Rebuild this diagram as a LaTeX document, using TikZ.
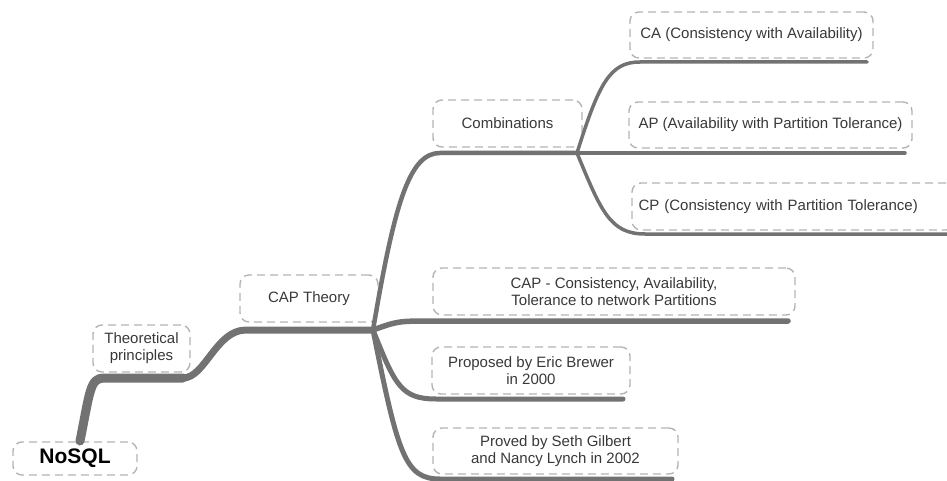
\documentclass[tikz,border=0pt]{standalone}
\usepackage{fontspec}
\setmainfont{Liberation Sans}
\begin{document}
\begin{tikzpicture}[x=1pt,y=-1pt,
  box/.style={draw=boxgray, line width=1.4pt, dash pattern=on 8pt off 5pt,
    rounded corners=9pt, inner sep=0pt, align=center, text=txtgray,
    font=\fontsize{15}{17}\selectfont},
  branch/.style={draw=linegray, line cap=round, line join=round}]
\definecolor{boxgray}{HTML}{B4B4B4}
\definecolor{linegray}{HTML}{727272}
\definecolor{txtgray}{HTML}{383838}
\useasboundingbox (0,0) rectangle (947,481);

% topic boxes
\node[box, minimum width=124pt, minimum height=33pt, text=black,
      font=\fontsize{21}{24}\bfseries] (nosql) at (75,458.5) {NoSQL};
\node[box, minimum width=97pt,  minimum height=47pt] (theo)   at (141.5,348.5) {Theoretical\\principles};
\node[box, minimum width=138pt, minimum height=47pt] (cap)    at (309,298.5)   {CAP Theory};
\node[box, minimum width=149pt, minimum height=47pt] (comb)   at (507.5,123.5) {Combinations};
\node[box, minimum width=243pt, minimum height=46pt] (ca)     at (751.5,35)    {CA (Consistency with Availability)};
\node[box, minimum width=283pt, minimum height=46pt] (ap)     at (770.5,125)   {AP (Availability with Partition Tolerance)};
\node[box, minimum width=323pt, minimum height=47pt, text width=310pt, align=left] (cp) at (793.5,206.5) {CP (Consistency with Partition Tolerance)};
\node[box, minimum width=362pt, minimum height=47pt] (capdef) at (614,291.5)   {CAP - Consistency, Availability,\\Tolerance to network Partitions};
\node[box, minimum width=198pt, minimum height=47pt] (prop)   at (531,370.5)   {Proposed by Eric Brewer\\in 2000};
\node[box, minimum width=245pt, minimum height=46pt] (proved) at (555.5,451)   {Proved by Seth Gilbert\\and Nancy Lynch in 2002};

% underline end points of each branch
\coordinate (nosql-t) at (80,441);
\coordinate (theo-l) at (104,378);   \coordinate (theo-r) at (183,378);
\coordinate (cap-l) at (246,330);    \coordinate (cap-r) at (373,330);
\coordinate (comb-l) at (440,153);   \coordinate (comb-r) at (577,153);
\coordinate (ca-l) at (640,62);      \coordinate (ca-r) at (867,62);
\coordinate (ap-r) at (905,153);
\coordinate (cp-l) at (645,234);     \coordinate (cp-r) at (952,234);
\coordinate (capdef-l) at (435,321); \coordinate (capdef-r) at (788,321);
\coordinate (prop-l) at (436,399);   \coordinate (prop-r) at (623,399);
\coordinate (proved-l) at (440,479); \coordinate (proved-r) at (672,479);

% branches
\draw[branch, line width=9pt] (nosql-t) .. controls +(10,-50) and +(-14,0) .. (theo-l) -- (theo-r);
\draw[branch, line width=7pt] (theo-r) .. controls +(22,0) and +(-30,0) .. (cap-l) -- (cap-r);
\draw[branch, line width=4.5pt] (cap-r) .. controls +(22,-130) and +(-30,0) .. (comb-l) -- (comb-r);
\draw[branch, line width=5.5pt] (cap-r) .. controls +(25,-9) .. (capdef-l) -- (capdef-r);
\draw[branch, line width=5pt] (cap-r) .. controls +(22,55) and +(-35,0) .. (prop-l) -- (prop-r);
\draw[branch, line width=5pt] (cap-r) .. controls +(25,125) and +(-35,0) .. (proved-l) -- (proved-r);
\draw[branch, line width=3.5pt] (comb-r) .. controls +(22,-70) and +(-30,0) .. (ca-l) -- (ca-r);
\draw[branch, line width=3.5pt] (comb-r) -- (ap-r);
\draw[branch, line width=3.5pt] (comb-r) .. controls +(24,58) and +(-35,0) .. (cp-l) -- (cp-r);
\end{tikzpicture}
\end{document}
